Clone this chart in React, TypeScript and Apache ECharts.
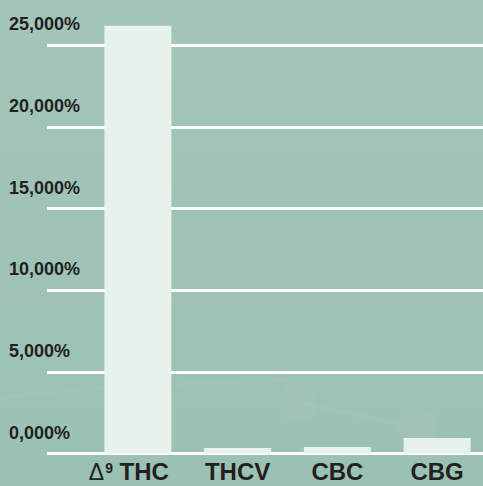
import React, { useEffect, useRef } from "react";
import * as echarts from "echarts";

const categories = ["THC", "THCV", "CBC", "CBG"];
const values = [26200, 350, 410, 960];
const yTickLabels = ["0,000%", "5,000%", "10,000%", "15,000%", "20,000%", "25,000%"];
const yMin = 0;
const yMax = 25000;
const yInterval = 5000;

export default function App() {
  const ref = useRef<HTMLDivElement>(null);
  useEffect(() => {
    const chart = echarts.init(ref.current!, null, { renderer: "svg" });
    const font = "'Liberation Sans', Arial, sans-serif";
    const dark = "#231f20";
    chart.setOption({
      animation: false,
      backgroundColor: {
        type: "linear", x: 0, y: 0, x2: 0, y2: 1,
        colorStops: [
          { offset: 0, color: "#a3c5ba" },
          { offset: 1, color: "#9bc1b4" },
        ],
      },
      graphic: [
        { type: "circle", shape: { cx: 298, cy: 402, r: 20 }, style: { fill: "rgba(255,255,255,0.03)" }, silent: true },
        { type: "circle", shape: { cx: 418, cy: 428, r: 20 }, style: { fill: "rgba(255,255,255,0.03)" }, silent: true },
        { type: "line", shape: { x1: 298, y1: 402, x2: 418, y2: 428 }, style: { stroke: "rgba(255,255,255,0.035)", lineWidth: 4 }, silent: true },
        { type: "bezierCurve", shape: { x1: 0, y1: 398, cpx1: 100, cpy1: 385, x2: 290, y2: 380 }, style: { stroke: "rgba(255,255,255,0.03)", lineWidth: 4, fill: "none" }, silent: true },
      ],
      grid: [
        { left: 47, right: 0, top: 45.3, bottom: 32.3, outerBoundsMode: "none", containLabel: false },
        { left: 88, right: -4, top: 45.3, bottom: 32.3, outerBoundsMode: "none", containLabel: false },
      ],
      xAxis: [
        { gridIndex: 0, type: "value", min: 0, max: 1, show: false },
        {
          gridIndex: 1,
          type: "category",
          data: categories,
          axisLine: { show: false },
          axisTick: { show: false },
          axisLabel: {
            margin: 7,
            interval: 0,
            formatter: (v: string, i: number) =>
              i === 0 ? "{d|\u0394}{s|9}{t| THC}" : "{b|" + v + "}",
            rich: {
              d: { fontFamily: font, fontSize: 23, fontWeight: "normal", color: dark, lineHeight: 22 },
              s: { fontFamily: font, fontSize: 14, fontWeight: "bold", color: dark, verticalAlign: "top", lineHeight: 22, padding: [0, 0, 11, 1] },
              t: { fontFamily: font, fontSize: 24, fontWeight: "bold", color: dark, lineHeight: 22, padding: [0, 18, 0, 0] },
              b: { fontFamily: font, fontSize: 24, fontWeight: "bold", color: dark, lineHeight: 22 },
            },
          },
        },
      ],
      yAxis: [
        {
          gridIndex: 0,
          type: "value",
          min: yMin,
          max: yMax,
          interval: yInterval,
          axisLine: { show: false },
          axisTick: { show: false },
          splitLine: { show: true, lineStyle: { color: "#ffffff", width: 3 } },
          axisLabel: {
            margin: 38,
            align: "left",
            verticalAlign: "bottom",
            lineHeight: 42,
            fontFamily: font,
            fontSize: 18,
            fontWeight: "bold",
            color: dark,
            formatter: (_v: number, i: number) => yTickLabels[i],
          },
        },
        { gridIndex: 1, type: "value", min: yMin, max: yMax, show: false },
      ],
      series: [
        {
          type: "bar",
          xAxisIndex: 1,
          yAxisIndex: 1,
          data: values,
          barWidth: 67,
          clip: false,
          itemStyle: { color: "#e6f2ea" },
        },
      ],
    });
    return () => chart.dispose();
  }, []);
  return (
    <div
      ref={ref}
      style={{ position: "fixed", left: 0, top: 0, width: 483, height: 486 }}
    />
  );
}
